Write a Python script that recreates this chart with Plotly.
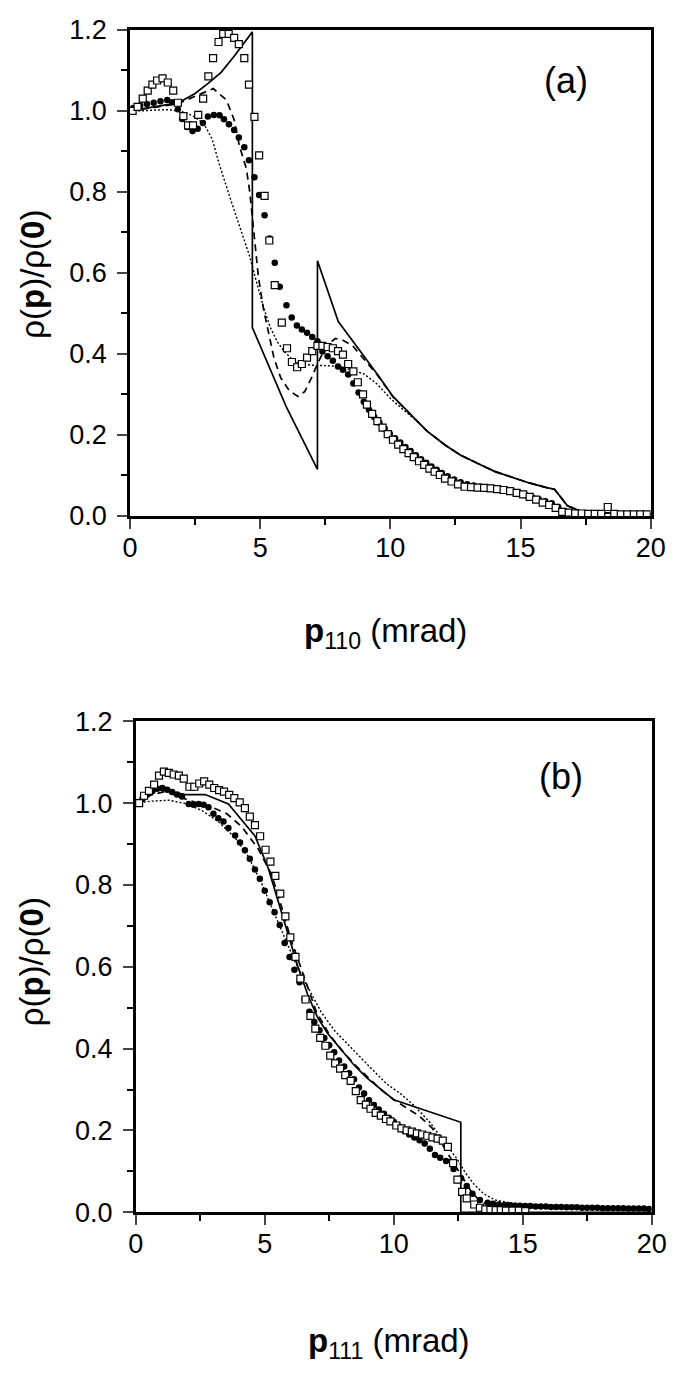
import plotly.graph_objects as go

# ---------------- panel (a): p110 ----------------
a_sq_x = [0.1, 0.29, 0.49, 0.68, 0.86, 1.04, 1.25, 1.45, 1.66, 1.84, 2.05, 2.23, 2.42, 2.62, 2.81,
          3.01, 3.19, 3.40, 3.58, 3.79, 4.0, 4.18, 4.39, 4.57, 4.78, 4.96, 5.17, 5.35, 5.56, 5.83,
          6.03, 6.22, 6.42, 6.6, 6.8, 7.0, 7.2, 7.39, 7.59, 7.79, 7.99, 8.18, 8.38, 8.58, 8.75,
          8.95, 9.1, 9.3, 9.5, 9.7, 9.9, 10.1, 10.3, 10.5, 10.7, 10.9, 11.1, 11.3, 11.5, 11.7,
          11.9, 12.1, 12.35, 12.6, 12.85, 13.1, 13.35, 13.6, 13.85, 14.1, 14.35, 14.6, 14.85, 15.1,
          15.35, 15.6, 15.85, 16.1, 16.35, 16.6, 16.85, 17.1, 17.35, 17.6, 17.85, 18.1, 18.35, 18.6,
          18.85, 19.1, 19.35, 19.6, 19.85]
a_sq_y = [1.0, 1.01, 1.03, 1.05, 1.065, 1.075, 1.08, 1.07, 1.05, 1.02, 0.987, 0.964, 0.964, 0.99, 1.03,
          1.085, 1.13, 1.17, 1.19, 1.19, 1.18, 1.165, 1.13, 1.065, 0.985, 0.89, 0.79, 0.68, 0.57, 0.477,
          0.414, 0.38, 0.367, 0.375, 0.391, 0.407, 0.42, 0.42, 0.417, 0.414, 0.407, 0.398, 0.375, 0.357, 0.33,
          0.3, 0.275, 0.252, 0.234, 0.218, 0.202, 0.188, 0.176, 0.165, 0.155, 0.145, 0.135, 0.126, 0.117, 0.109,
          0.101, 0.092, 0.085, 0.078, 0.072, 0.071, 0.07, 0.069, 0.068, 0.066, 0.064, 0.061, 0.057, 0.053,
          0.047, 0.04, 0.033, 0.027, 0.02, 0.01, 0.008, 0.006, 0.006, 0.005, 0.005, 0.005, 0.022, 0.005,
          0.004, 0.004, 0.004, 0.004, 0.004]

a_ci_x = [0.13, 0.39, 0.65, 0.91, 1.17, 1.43, 1.62, 1.84, 2.0, 2.2, 2.4, 2.6, 2.8, 2.99, 3.22, 3.44,
          3.61, 3.8, 4.0, 4.18, 4.39, 4.57, 4.78, 4.96, 5.17, 5.36, 5.56, 5.75, 6.01, 6.21, 6.41, 6.6,
          6.8, 7.0, 7.2, 7.39, 7.59, 7.79, 7.99, 8.18, 8.38, 8.58, 8.78, 8.98, 9.18, 9.38, 9.58, 9.78,
          9.98, 10.18, 10.38, 10.58, 10.78, 10.98, 11.18, 11.38, 11.58, 11.78, 11.98, 12.2, 12.45, 12.7,
          12.95, 13.2, 13.45, 13.7, 13.95, 14.2, 14.45, 14.7, 14.95, 15.2, 15.45, 15.7, 15.95, 16.2,
          16.45, 16.7]
a_ci_y = [1.007, 1.013, 1.017, 1.02, 1.024, 1.027, 1.021, 1.004, 0.98, 0.96, 0.95, 0.956, 0.97, 0.986,
          0.99, 0.989, 0.979, 0.967, 0.953, 0.934, 0.91, 0.878, 0.836, 0.792, 0.742, 0.685, 0.625, 0.566,
          0.52, 0.49, 0.47, 0.46, 0.452, 0.442, 0.431, 0.406, 0.394, 0.383, 0.369, 0.361, 0.349, 0.327,
          0.305, 0.282, 0.262, 0.244, 0.23, 0.216, 0.203, 0.192, 0.181, 0.17, 0.16, 0.15, 0.14, 0.131,
          0.122, 0.114, 0.106, 0.098, 0.09, 0.083, 0.078, 0.075, 0.072, 0.07, 0.068, 0.066, 0.063, 0.06,
          0.056, 0.051, 0.046, 0.041, 0.036, 0.031, 0.022, 0.012]

a_solid_x = [0, 0.5, 1.0, 1.5, 2.0, 2.5, 3.0, 3.5, 4.0, 4.4, 4.7, 4.7, 6.0, 7.2, 7.2, 8.0, 8.7, 9.5,
             10.1, 10.8, 11.4, 12.1, 12.7, 13.4, 14.0, 14.7, 15.3, 16.0, 16.3, 16.5, 16.8, 17.3, 18.6, 20]
a_solid_y = [1.0, 1.005, 1.01, 1.016, 1.025, 1.043, 1.068, 1.095, 1.135, 1.168, 1.195, 0.465, 0.27,
             0.115, 0.63, 0.48, 0.42, 0.35, 0.295, 0.25, 0.21, 0.175, 0.15, 0.128, 0.11, 0.095,
             0.082, 0.07, 0.066, 0.05, 0.025, 0.012, 0.006, 0.004]

a_dash_x = [0, 0.5, 1.0, 1.5, 2.0, 2.5, 3.0, 3.2, 3.7, 4.0, 4.2, 4.47, 4.6, 4.67, 4.8, 4.93, 5.13,
            5.33, 5.53, 5.79, 6.12, 6.45, 6.71, 6.97, 7.24, 7.57, 7.89, 8.16, 8.55, 9.5, 10.1, 10.8,
            11.4, 12.1, 12.7, 13.4, 14.0, 14.7, 15.3, 16.0, 16.3, 16.5, 16.8, 17.3, 18.6, 20]
a_dash_y = [1.0, 1.004, 1.009, 1.014, 1.022, 1.036, 1.05, 1.055, 1.027, 0.978, 0.914, 0.857, 0.8,
            0.752, 0.672, 0.591, 0.51, 0.446, 0.39, 0.341, 0.309, 0.295, 0.307, 0.341, 0.381, 0.422,
            0.438, 0.434, 0.42, 0.348, 0.294, 0.249, 0.21, 0.175, 0.15, 0.128, 0.11, 0.095, 0.082,
            0.07, 0.066, 0.05, 0.025, 0.012, 0.006, 0.004]

a_dot_x = [0, 0.5, 1.0, 1.5, 2.0, 2.4, 2.7, 2.89, 3.16, 3.42, 3.82, 4.21, 4.6, 4.87, 5.13, 5.39,
           5.66, 5.92, 6.18, 6.45, 6.97, 7.5, 8.03, 8.55, 9.0, 9.5, 10.0, 10.5, 11.0, 11.4, 12.1,
           12.7, 13.4, 14.0, 14.7, 15.3, 16.0, 16.3, 16.5, 16.8, 17.3, 18.6, 20]
a_dot_y = [1.0, 1.0, 1.002, 1.003, 0.998, 0.988, 0.975, 0.962, 0.93, 0.87, 0.79, 0.715, 0.64, 0.575,
           0.515, 0.465, 0.43, 0.406, 0.39, 0.377, 0.372, 0.371, 0.369, 0.36, 0.35, 0.325, 0.29,
           0.262, 0.235, 0.21, 0.175, 0.15, 0.128, 0.11, 0.095, 0.082, 0.07, 0.066, 0.05, 0.025,
           0.012, 0.006, 0.004]

# ---------------- panel (b): p111 ----------------
b_sq_x = [0.13, 0.32, 0.51, 0.71, 0.9, 1.09, 1.28, 1.47, 1.67, 1.86, 2.08, 2.27, 2.46, 2.65, 2.85,
          3.04, 3.23, 3.42, 3.62, 3.82, 4.03, 4.23, 4.42, 4.62, 4.82, 5.03, 5.22, 5.41, 5.6, 5.8,
          5.99, 6.19, 6.38, 6.58, 6.77, 6.96, 7.15, 7.35, 7.54, 7.73, 7.92, 8.12, 8.33, 8.53, 8.72,
          8.92, 9.1, 9.3, 9.5, 9.7, 9.87, 10.1, 10.3, 10.5, 10.7, 10.9, 11.1, 11.3, 11.5, 11.7,
          11.9, 12.1, 12.3, 12.47, 12.65, 12.83, 13.12, 13.34, 13.55, 13.75, 13.95, 14.15, 14.35,
          14.6, 14.85, 15.1]
b_sq_y = [1.0, 1.018, 1.03, 1.045, 1.067, 1.077, 1.074, 1.07, 1.067, 1.06, 1.04, 1.04, 1.048, 1.053,
          1.045, 1.037, 1.032, 1.028, 1.02, 1.012, 1.002, 0.988, 0.967, 0.946, 0.919, 0.886, 0.857,
          0.822, 0.779, 0.723, 0.672, 0.624, 0.571, 0.52, 0.48, 0.449, 0.426, 0.407, 0.383, 0.364,
          0.351, 0.335, 0.321, 0.296, 0.274, 0.263, 0.253, 0.243, 0.236, 0.228, 0.222, 0.212, 0.205,
          0.2, 0.197, 0.193, 0.19, 0.187, 0.183, 0.18, 0.175, 0.16, 0.12, 0.08, 0.05, 0.034, 0.019,
          0.011, 0.007, 0.006, 0.005, 0.005, 0.004, 0.004, 0.004, 0.003]

b_ci_x = [0.05, 0.26, 0.45, 0.64, 0.83, 1.03, 1.22, 1.41, 1.6, 1.79, 2.05, 2.24, 2.44, 2.63, 2.82,
          3.01, 3.2, 3.4, 3.59, 3.85, 4.04, 4.23, 4.42, 4.62, 4.81, 5.0, 5.19, 5.38, 5.58, 5.77,
          5.96, 6.15, 6.35, 6.54, 6.73, 6.92, 7.12, 7.31, 7.5, 7.69, 7.88, 8.08, 8.27, 8.46, 8.65,
          8.85, 9.04, 9.23, 9.42, 9.62, 9.81, 10.0, 10.19, 10.4, 10.6, 10.8, 11.0, 11.2, 11.4, 11.6,
          11.8, 12.03, 12.32, 12.61, 12.83, 13.05, 13.34, 13.64, 13.85, 14.07, 14.3, 14.5, 14.7,
          14.9, 15.1, 15.3, 15.5, 15.7, 15.9, 16.1, 16.3, 16.5, 16.7, 16.9, 17.1, 17.3, 17.5, 17.7,
          17.9, 18.1, 18.3, 18.5, 18.7, 18.9, 19.1, 19.3, 19.5, 19.7, 19.9]
b_ci_y = [1.0, 1.01, 1.021, 1.029, 1.035, 1.037, 1.033, 1.027, 1.021, 1.016, 0.998, 0.996, 0.998,
          0.996, 0.99, 0.974, 0.963, 0.955, 0.939, 0.921, 0.904, 0.885, 0.864, 0.838, 0.815, 0.786,
          0.758, 0.733, 0.702, 0.658, 0.624, 0.593, 0.562, 0.521, 0.49, 0.465, 0.445, 0.426, 0.408,
          0.391, 0.371, 0.356, 0.34, 0.325, 0.305, 0.29, 0.274, 0.262, 0.251, 0.241, 0.231, 0.221,
          0.21, 0.2, 0.19, 0.183, 0.176, 0.168, 0.155, 0.14, 0.133, 0.125, 0.106, 0.083, 0.064, 0.045,
          0.03, 0.023, 0.021, 0.019, 0.018, 0.017, 0.016, 0.016, 0.015, 0.015, 0.014, 0.014, 0.014,
          0.013, 0.013, 0.013, 0.012, 0.012, 0.012, 0.011, 0.011, 0.011, 0.011, 0.01, 0.01, 0.01,
          0.01, 0.01, 0.009, 0.009, 0.009, 0.009, 0.008]

b_solid_x = [0, 0.64, 1.09, 1.54, 1.92, 2.69, 3.59, 4.1, 4.62, 5.13, 5.51, 5.9, 6.28, 6.67, 7.05,
             7.44, 7.95, 8.46, 8.97, 9.5, 10.0, 12.6, 12.6, 20]
b_solid_y = [1.0, 1.029, 1.038, 1.025, 1.021, 1.021, 0.998, 0.959, 0.92, 0.842, 0.764, 0.679, 0.601,
             0.531, 0.476, 0.437, 0.398, 0.36, 0.328, 0.3, 0.275, 0.22, 0.0, 0.0]

b_dash_x = [0, 0.5, 1.15, 1.79, 2.4, 2.95, 3.53, 4.1, 4.74, 5.26, 5.64, 6.0, 6.5, 7.0, 7.5, 8.0,
            8.5, 9.0, 9.5, 10.0, 10.5, 11.0, 11.5, 12.17, 12.39, 12.69, 12.98, 13.34, 13.78, 14.3]
b_dash_y = [1.0, 1.018, 1.029, 1.013, 1.0, 0.99, 0.974, 0.943, 0.889, 0.826, 0.749, 0.67, 0.58, 0.49,
            0.435, 0.395, 0.36, 0.33, 0.3, 0.275, 0.255, 0.235, 0.205, 0.136, 0.114, 0.083, 0.053,
            0.027, 0.015, 0.01]

b_dot_x = [0, 0.64, 1.28, 1.92, 2.56, 3.2, 3.85, 4.36, 4.87, 5.38, 5.77, 6.15, 6.67, 7.18, 7.69,
           8.21, 8.72, 9.23, 9.74, 10.26, 10.8, 11.4, 12.0, 12.47, 12.76, 13.12, 13.49, 13.93, 14.5,
           15.5, 17.0, 18.5, 20.0]
b_dot_y = [1.0, 1.005, 1.007, 0.999, 0.982, 0.955, 0.915, 0.87, 0.805, 0.73, 0.67, 0.615, 0.55,
           0.49, 0.445, 0.41, 0.378, 0.345, 0.313, 0.29, 0.26, 0.22, 0.17, 0.129, 0.098, 0.068,
           0.045, 0.03, 0.023, 0.017, 0.014, 0.012, 0.01]

FONT = "Liberation Sans, Arial, Helvetica, sans-serif"

fig = go.Figure()


def add_panel(xa, ya, sq_x, sq_y, ci_x, ci_y, sol_x, sol_y, dash_x, dash_y, dot_x, dot_y):
    fig.add_trace(go.Scatter(x=sol_x, y=sol_y, mode="lines", xaxis=xa, yaxis=ya,
                             line=dict(color="black", width=1.7)))
    fig.add_trace(go.Scatter(x=dash_x, y=dash_y, mode="lines", xaxis=xa, yaxis=ya,
                             line=dict(color="black", width=1.7, dash="7px,5px")))
    fig.add_trace(go.Scatter(x=dot_x, y=dot_y, mode="lines", xaxis=xa, yaxis=ya,
                             line=dict(color="black", width=1.4, dash="2px,2px")))
    fig.add_trace(go.Scatter(x=ci_x, y=ci_y, mode="markers", xaxis=xa, yaxis=ya,
                             marker=dict(symbol="circle", size=6.5, color="black")))
    fig.add_trace(go.Scatter(x=sq_x, y=sq_y, mode="markers", xaxis=xa, yaxis=ya,
                             marker=dict(symbol="square", size=7, color="white",
                                         line=dict(color="black", width=1.2))))


add_panel("x", "y", a_sq_x, a_sq_y, a_ci_x, a_ci_y, a_solid_x, a_solid_y,
          a_dash_x, a_dash_y, a_dot_x, a_dot_y)
add_panel("x2", "y2", b_sq_x, b_sq_y, b_ci_x, b_ci_y, b_solid_x, b_solid_y,
          b_dash_x, b_dash_y, b_dot_x, b_dot_y)

# page has an 8px body margin, so the figure sits 8px in from the window corner
OFF = 8
W, H = 694 - 2 * OFF, 1380 - 2 * OFF


def px_x(p):
    return (p - OFF) / W


def px_y(p):
    return 1 - (p - OFF) / H


tick_font = dict(size=27, family=FONT, color="black")
xaxis_style = dict(range=[0, 20], tickvals=[0, 5, 10, 15, 20], ticks="outside", ticklen=10,
                   tickwidth=2, showline=True, linewidth=2.5, linecolor="black", mirror=True,
                   showgrid=False, zeroline=False, tickfont=tick_font, ticklabelstandoff=-4,
                   minor=dict(tickvals=[2.5, 7.5, 12.5, 17.5], ticks="outside", ticklen=6,
                              tickwidth=2, tickcolor="black"))
yaxis_style = dict(range=[0, 1.2], tickvals=[0, 0.2, 0.4, 0.6, 0.8, 1.0, 1.2], tickformat=".1f",
                   ticks="outside", ticklen=10, tickwidth=2, showline=True, linewidth=2.5,
                   linecolor="black", mirror=True, showgrid=False, zeroline=False,
                   tickfont=tick_font, ticklabelstandoff=5,
                   minor=dict(tickvals=[0.1, 0.3, 0.5, 0.7, 0.9, 1.1], ticks="outside", ticklen=6,
                              tickwidth=2, tickcolor="black"))

fig.update_layout(
    width=W, height=H, margin=dict(l=0, r=0, t=0, b=0),
    paper_bgcolor="white", plot_bgcolor="white", showlegend=False,
    xaxis=dict(domain=[px_x(126), px_x(665)], anchor="y", **xaxis_style),
    yaxis=dict(domain=[px_y(512), px_y(15)], anchor="x", **yaxis_style),
    xaxis2=dict(domain=[px_x(132), px_x(666)], anchor="y2", **xaxis_style),
    yaxis2=dict(domain=[px_y(1224), px_y(722)], anchor="x2", **yaxis_style),
)

ann_font = dict(family=FONT, size=36, color="black")
title_font = dict(family=FONT, size=33, color="black")
ylab = "ρ(<b>p</b>)/ρ(<b>0</b>)"
center = dict(xanchor="center", yanchor="middle", showarrow=False)
fig.add_annotation(text="(a)", x=16.75, y=1.075, xref="x", yref="y", font=ann_font, **center)
fig.add_annotation(text="(b)", x=16.5, y=1.065, xref="x2", yref="y2", font=ann_font, **center)
fig.add_annotation(text=ylab, x=px_x(25), y=px_y(265), xref="paper", yref="paper",
                   textangle=-90, font=title_font, **center)
fig.add_annotation(text=ylab, x=px_x(24), y=px_y(968), xref="paper", yref="paper",
                   textangle=-90, font=title_font, **center)
fig.add_annotation(text="<b>p</b><sub>110</sub> (mrad)", x=px_x(390), y=px_y(632),
                   xref="paper", yref="paper", font=title_font, **center)
fig.add_annotation(text="<b>p</b><sub>111</sub> (mrad)", x=px_x(394), y=px_y(1358),
                   xref="paper", yref="paper", font=title_font, **center)

fig.write_html("out.html")
